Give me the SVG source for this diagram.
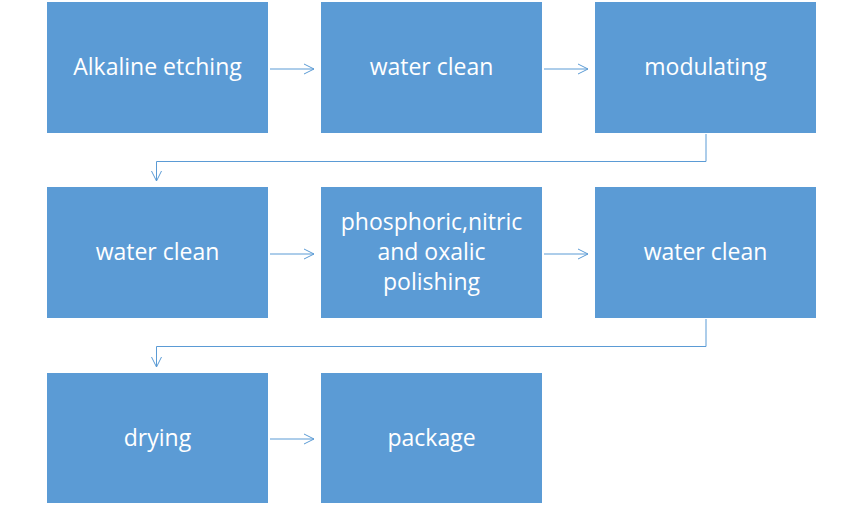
<svg xmlns="http://www.w3.org/2000/svg" width="864" height="505" viewBox="0 0 864 505">
<style>
.box{fill:#5B9BD5}
.t{font-family:"Open Sans","Liberation Sans",sans-serif;font-size:23px;fill:#fff;text-anchor:middle;dominant-baseline:central}
.c{fill:none;stroke:#5B9BD5;stroke-width:1}
</style>
<defs>
<marker id="ah" viewBox="0 0 12 12" refX="11" refY="6" markerWidth="12" markerHeight="12" markerUnits="userSpaceOnUse" orient="auto">
<path d="M1,1 L11,6 L1,11" fill="none" stroke="#5B9BD5" stroke-width="1"/>
</marker>
</defs>
<rect width="864" height="505" fill="#fff"/>
<g id="connectors">
<line class="c" x1="270" y1="69" x2="314" y2="69" marker-end="url(#ah)"/>
<line class="c" x1="544" y1="69" x2="588" y2="69" marker-end="url(#ah)"/>
<polyline class="c" points="706,134 706,161.5 156.5,161.5 156.5,181" marker-end="url(#ah)"/>
<line class="c" x1="270" y1="254" x2="314" y2="254" marker-end="url(#ah)"/>
<line class="c" x1="544" y1="254" x2="588" y2="254" marker-end="url(#ah)"/>
<polyline class="c" points="706,319 706,346.5 156.5,346.5 156.5,367" marker-end="url(#ah)"/>
<line class="c" x1="270" y1="439" x2="314" y2="439" marker-end="url(#ah)"/>
</g>
<g id="n1"><rect class="box" x="47" y="2" width="221" height="131"/><text class="t" x="157.5" y="66">Alkaline etching</text></g>
<g id="n2"><rect class="box" x="321" y="2" width="221" height="131"/><text class="t" x="431.5" y="66">water clean</text></g>
<g id="n3"><rect class="box" x="595" y="2" width="221" height="131"/><text class="t" x="705.5" y="66">modulating</text></g>
<g id="n4"><rect class="box" x="47" y="187" width="221" height="131"/><text class="t" x="157.5" y="251">water clean</text></g>
<g id="n5"><rect class="box" x="321" y="187" width="221" height="131"/><text class="t" x="431.5" y="221">phosphoric,nitric</text><text class="t" x="431.5" y="251">and oxalic</text><text class="t" x="431.5" y="281">polishing</text></g>
<g id="n6"><rect class="box" x="595" y="187" width="221" height="131"/><text class="t" x="705.5" y="251">water clean</text></g>
<g id="n7"><rect class="box" x="47" y="373" width="221" height="130"/><text class="t" x="157.5" y="437">drying</text></g>
<g id="n8"><rect class="box" x="321" y="373" width="221" height="130"/><text class="t" x="431.5" y="437">package</text></g>
</svg>
